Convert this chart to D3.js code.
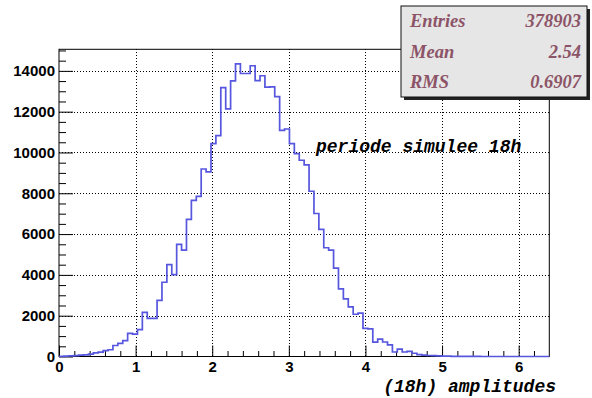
<!DOCTYPE html>
<html><head><meta charset="utf-8">
<script src="https://cdn.jsdelivr.net/npm/d3@7"></script>
<style>body{margin:0;background:#fff}svg{display:block}</style>
</head><body>
<svg id="c" width="592" height="398"></svg>
<script>
// ---- data ----
const xMin = 0, xMax = 6.4;
const counts = [
  10, 20, 30, 40, 70, 80, 120, 180, 210, 290,
  330, 540, 640, 780, 1130, 1100, 1320, 2160, 1870, 1870,
  2750, 3640, 4500, 4010, 5500, 5210, 6720, 7650, 7850, 9190,
  9050, 10430, 10830, 13180, 12140, 13510, 14340, 13870, 13870, 14250,
  13520, 13760, 13200, 13220, 12740, 11080, 11150, 10430, 9940, 9620,
  9390, 8100, 7010, 6230, 5330, 5210, 4330, 3310, 2820, 2430,
  2070, 2130, 1380, 1350, 700, 850, 710, 570, 220, 360,
  220, 250, 160, 90, 70, 50, 40, 30, 20, 15,
  10, 8, 5, 4, 3, 2, 1, 1, 0, 0,
  0, 0, 0, 0, 0, 0, 0, 0, 0, 0
];
const xTicks = [0, 1, 2, 3, 4, 5, 6];
const xMinorTicks = [0.2,0.4,0.6,0.8,1.2,1.4,1.6,1.8,2.2,2.4,2.6,2.8,3.2,3.4,3.6,3.8,4.2,4.4,4.6,4.8,5.2,5.4,5.6,5.8,6.2];
const yTicks = [0, 2000, 4000, 6000, 8000, 10000, 12000, 14000];
const yMinorTicks = [500,1000,1500,2500,3000,3500,4500,5000,5500,6500,7000,7500,8500,9000,9500,10500,11000,11500,12500,13000,13500,14500,15000];
const statNames = ["Entries", "Mean", "RMS"];
const statValues = ["378903", "2.54", "0.6907"];
const plotTitle = "periode simulee 18h";
const xTitle = "(18h) amplitudes";

// ---- layout ----
const L = 59, R = 549.3, T = 49.3, B = 356.5;
const svg = d3.select("#c");
svg.append("rect").attr("width",592).attr("height",398).attr("fill","#fff");

const nb = counts.length, bw = (xMax - xMin) / nb;
const yMax = d3.max(counts) * 1.05;
const x = d3.scaleLinear().domain([xMin, xMax]).range([L, R]);
const y = d3.scaleLinear().domain([0, yMax]).range([B, T]);

// grid
const grid = svg.append("g").attr("stroke","#000").attr("stroke-width",1).attr("stroke-dasharray","1,2").attr("shape-rendering","crispEdges");
xTicks.filter(v => v > xMin).forEach(v => grid.append("line").attr("x1",Math.round(x(v))+0.5).attr("x2",Math.round(x(v))+0.5).attr("y1",T).attr("y2",B));
yTicks.filter(v => v > 0).forEach(v => grid.append("line").attr("y1",Math.round(y(v))+0.5).attr("y2",Math.round(y(v))+0.5).attr("x1",L).attr("x2",R));

// axes
const fontAx = "'Liberation Sans', Arial, Helvetica, sans-serif";
const gx = svg.append("g").attr("transform",`translate(0,${B})`)
  .call(d3.axisBottom(x).tickValues(xTicks).tickSize(-11).tickPadding(5).tickFormat(d3.format("d")));
const gxm = svg.append("g").attr("transform",`translate(0,${B})`)
  .call(d3.axisBottom(x).tickValues(xMinorTicks).tickSize(-5.5).tickFormat(""));
const gy = svg.append("g").attr("transform",`translate(${L},0)`)
  .call(d3.axisLeft(y).tickValues(yTicks).tickSize(-14).tickPadding(4).tickFormat(d3.format("d")));
const gym = svg.append("g").attr("transform",`translate(${L},0)`)
  .call(d3.axisLeft(y).tickValues(yMinorTicks).tickSize(-7).tickFormat(""));
[gx,gxm,gy,gym].forEach(g => {
  g.select(".domain").remove();
  g.selectAll("line").attr("stroke","#000").attr("stroke-width",1);
  g.selectAll("text").attr("font-family",fontAx).attr("font-weight","bold").attr("font-size",15).attr("fill","#000");
});

// frame
svg.append("rect").attr("x",L).attr("y",T).attr("width",R-L).attr("height",B-T)
  .attr("fill","none").attr("stroke","#000").attr("stroke-width",1);

// histogram
const pts = counts.map((c,i) => [xMin + i*bw, c]);
pts.push([xMax, counts[nb-1]]);
const line = d3.line().x(d => x(d[0])).y(d => y(d[1])).curve(d3.curveStepAfter);
svg.append("path").attr("d", line(pts)).attr("fill","none")
  .attr("stroke","#5656de").attr("stroke-width",1.7).attr("stroke-linejoin","miter");

// title text
svg.append("text").attr("x",316).attr("y",152).text(plotTitle)
  .attr("font-family","'Liberation Mono', 'Courier New', monospace").attr("font-weight","bold")
  .attr("font-style","italic").attr("font-size",18).attr("fill","#000");
svg.append("text").attr("x",556).attr("y",392).attr("text-anchor","end").text(xTitle)
  .attr("font-family","'Liberation Mono', 'Courier New', monospace").attr("font-weight","bold")
  .attr("font-style","italic").attr("font-size",18).attr("fill","#000");

// stats box
const bx = 401, by = 6, bwid = 186, bh = 91, sh = 3;
svg.append("rect").attr("x",bx+sh).attr("y",by+sh).attr("width",bwid).attr("height",bh).attr("fill","#222");
svg.append("rect").attr("x",bx).attr("y",by).attr("width",bwid).attr("height",bh)
  .attr("fill","#e6e6e6").attr("stroke","#111").attr("stroke-width",1);
const rowH = bh / statNames.length;
const stf = "'Liberation Serif', 'Times New Roman', serif";
statNames.forEach((n,i) => {
  const yy = by + rowH*i + rowH/2 + 6;
  svg.append("text").attr("x",bx+9).attr("y",yy).text(n)
    .attr("font-family",stf).attr("font-weight","bold").attr("font-style","italic").attr("font-size",18.5).attr("fill","#8c5466");
  svg.append("text").attr("x",bx+bwid-6).attr("y",yy).attr("text-anchor","end").text(statValues[i])
    .attr("font-family",stf).attr("font-weight","bold").attr("font-style","italic").attr("font-size",18.5).attr("fill","#8c5466");
});
</script>
</body></html>
